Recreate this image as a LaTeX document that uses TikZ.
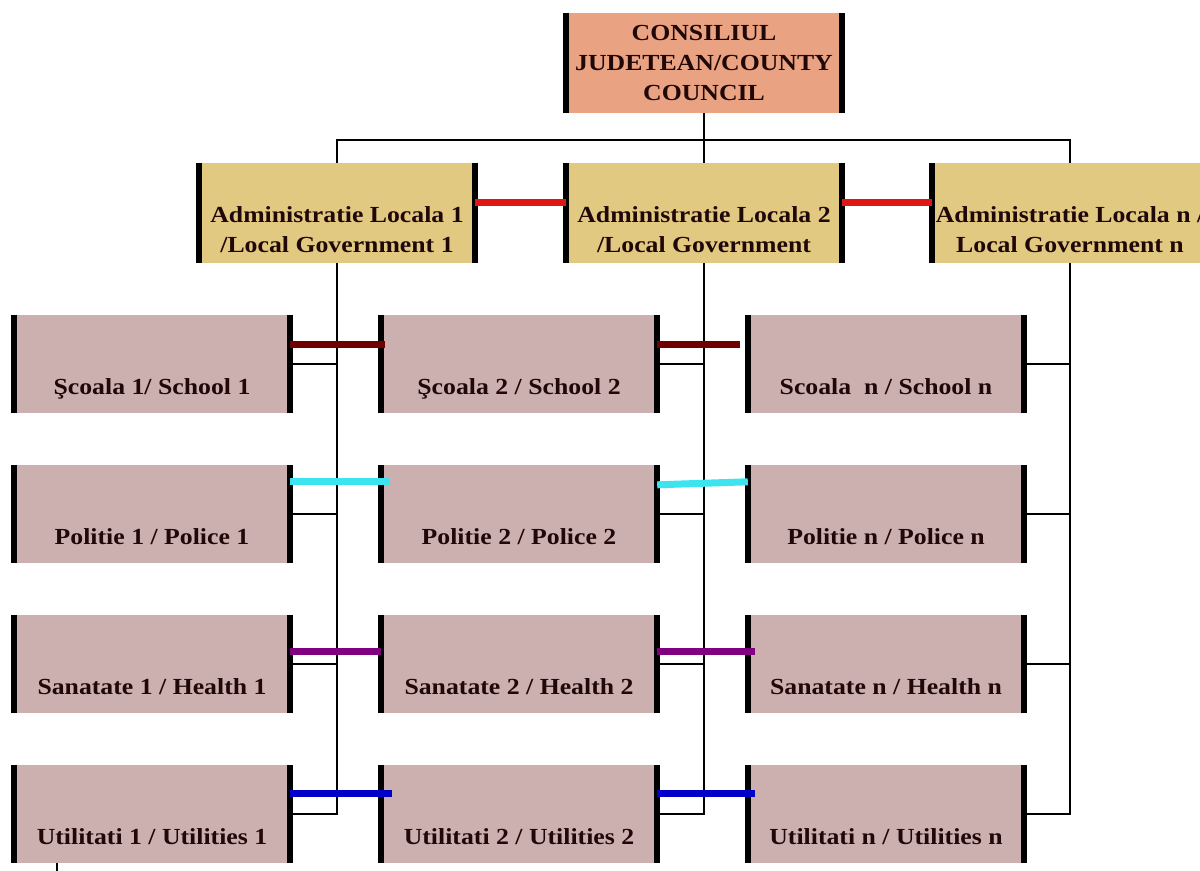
\documentclass[tikz,border=0pt]{standalone}
\usepackage{fontspec}
\newfontfamily\orgfont{Liberation Serif}[FakeStretch=1.12]
\definecolor{councilfill}{RGB}{233,162,130}
\definecolor{localfill}{RGB}{226,201,130}
\definecolor{servfill}{RGB}{204,176,176}
\definecolor{inktext}{RGB}{32,8,8}
\definecolor{linkred}{RGB}{222,22,22}
\definecolor{linkschool}{RGB}{112,0,0}
\definecolor{linkpolice}{RGB}{60,228,240}
\definecolor{linkhealth}{RGB}{128,0,128}
\definecolor{linkutil}{RGB}{0,0,200}
\tikzset{
  orgtext/.style={font=\orgfont\bfseries\fontsize{23bp}{30bp}\selectfont, text=inktext},
  council/.style={orgtext, fill=councilfill, minimum width=276bp, minimum height=100bp, inner sep=0pt, align=center},
  localgov/.style={orgtext, fill=localfill, minimum width=276bp, minimum height=100bp, inner sep=0pt, align=center, text height=89bp, text depth=11bp},
  service/.style={orgtext, fill=servfill, minimum width=276bp, minimum height=98bp, inner sep=0pt, text height=79bp, text depth=19bp},
  sidebar/.style={line width=6bp, black},
  wire/.style={line width=1.4bp, black},
  link/.style={line width=7bp}
}
\begin{document}
\begin{tikzpicture}[x=1bp, y=-1bp]
\useasboundingbox (0,0) rectangle (1200,871);

% Consiliul judetean
\node[council] (cc) at (704,63) {CONSILIUL\\JUDETEAN/COUNTY\\COUNCIL};

% Administratii locale
\node[localgov] (lg1) at (337,213) {Administratie Locala 1\\/Local Government 1};
\node[localgov] (lg2) at (704,213) {Administratie Locala 2\\/Local Government};
\node[localgov] (lgn) at (1070,213) {Administratie Locala n /\\Local Government n};

% Servicii, coloana 1
\node[service] (s1) at (152,364) {Şcoala 1/ School 1};
\node[service] (p1) at (152,514) {Politie 1 / Police 1};
\node[service] (h1) at (152,664) {Sanatate 1 / Health 1};
\node[service] (u1) at (152,814) {Utilitati 1 / Utilities 1};

% Servicii, coloana 2
\node[service] (s2) at (519,364) {Şcoala 2 / School 2};
\node[service] (p2) at (519,514) {Politie 2 / Police 2};
\node[service] (h2) at (519,664) {Sanatate 2 / Health 2};
\node[service] (u2) at (519,814) {Utilitati 2 / Utilities 2};

% Servicii, coloana n
\node[service] (s3) at (886,364) {Scoala~ n / School n};
\node[service] (p3) at (886,514) {Politie n / Police n};
\node[service] (h3) at (886,664) {Sanatate n / Health n};
\node[service] (u3) at (886,814) {Utilitati n / Utilities n};

% Bare laterale
\foreach \n in {cc,lg1,lg2,lgn,s1,p1,h1,u1,s2,p2,h2,u2,s3,p3,h3,u3}
  \draw[sidebar] (\n.north west) -- (\n.south west) (\n.north east) -- (\n.south east);

% Ierarhie
\coordinate (bus) at (704,140);
\draw[wire] (cc.south) -- (lg2.north);
\draw[wire] (lg1.north) |- (bus) -| (lgn.north);
\draw[wire] (lg1.south) |- (u1.east);
\draw[wire] (lg2.south) |- (u2.east);
\draw[wire] (lgn.south) |- (u3.east);
\foreach \n/\g in {s1/lg1,p1/lg1,h1/lg1,s2/lg2,p2/lg2,h2/lg2,s3/lgn,p3/lgn,h3/lgn}
  \draw[wire] (\n.east) -- (\n.east -| \g.south);

% Colaborare
\draw[link, linkred] ([yshift=11bp]lg1.east) -- ([yshift=11bp]lg2.west);
\draw[link, linkred] ([yshift=11bp]lg2.east) -- ([yshift=11bp]lgn.west);
\draw[link, linkschool] ([yshift=-30bp]s1.north east) -- ([xshift=4bp,yshift=-30bp]s2.north west);
\draw[link, linkschool] ([yshift=-30bp]s2.north east) -- ([xshift=-8bp,yshift=-30bp]s3.north west);
\draw[link, linkpolice] ([yshift=-17bp]p1.north east) -- ([xshift=9bp,yshift=-17bp]p2.north west);
\draw[link, linkpolice] ([yshift=-20bp]p2.north east) -- ([yshift=-17bp]p3.north west);
\draw[link, linkhealth] ([yshift=-37bp]h1.north east) -- ([yshift=-37bp]h2.north west);
\draw[link, linkhealth] ([yshift=-37bp]h2.north east) -- ([xshift=7bp,yshift=-37bp]h3.north west);
\draw[link, linkutil] ([yshift=-29bp]u1.north east) -- ([xshift=11bp,yshift=-29bp]u2.north west);
\draw[link, linkutil] ([yshift=-29bp]u2.north east) -- ([xshift=7bp,yshift=-29bp]u3.north west);

% Semn jos
\coordinate (tick) at (57,871);
\draw[wire] (tick) -- (tick |- u1.south);

\end{tikzpicture}
\end{document}
